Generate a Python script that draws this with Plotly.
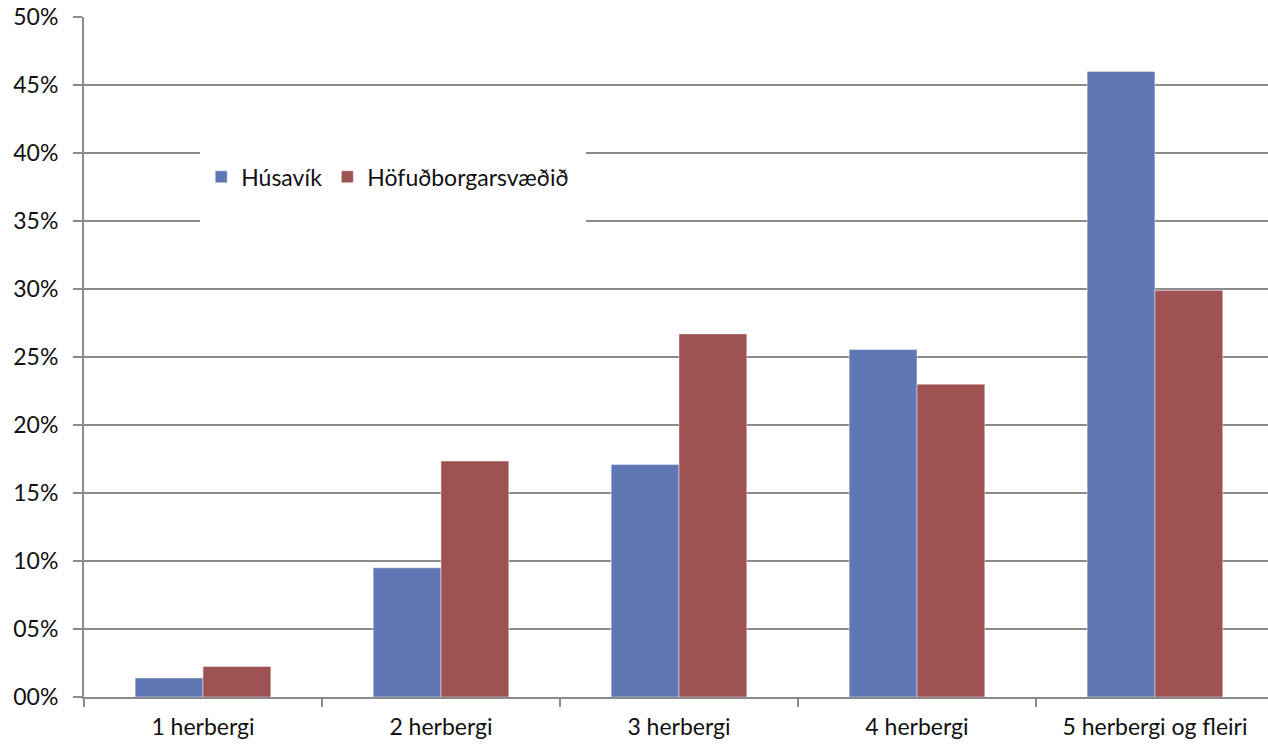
import plotly.graph_objects as go

# Room-count categories and share of dwellings (percent)
categories = ["1 herbergi", "2 herbergi", "3 herbergi", "4 herbergi", "5 herbergi og fleiri"]
husavik = [1.4, 9.5, 17.1, 25.55, 46.0]
hofudborgarsvaedid = [2.25, 17.35, 26.7, 23.0, 29.9]

y_tickvals = [0, 5, 10, 15, 20, 25, 30, 35, 40, 45, 50]
y_ticktext = ["00%", "05%", "10%", "15%", "20%", "25%", "30%", "35%", "40%", "45%", "50%"]

FONT = "Lato, 'Noto Sans', sans-serif"
FSIZE = 23
GRID = "#8a8a8a"

fig = go.Figure()
fig.add_trace(go.Bar(
    name="Húsavík", x=categories, y=husavik,
    marker=dict(color="#6077B5", line=dict(color="rgba(255,255,255,0.45)", width=1)),
))
fig.add_trace(go.Bar(
    name="Höfuðborgarsvæðið", x=categories, y=hofudborgarsvaedid,
    marker=dict(color="#9E5252", line=dict(color="rgba(255,255,255,0.45)", width=1)),
))

fig.update_layout(
    width=1268, height=746,
    margin=dict(l=84, r=0, t=17, b=49),
    paper_bgcolor="white", plot_bgcolor="white",
    barmode="group", bargap=0.43, bargroupgap=0,
    font=dict(family=FONT, size=FSIZE, color="#111111"),
    showlegend=True,
    legend=dict(
        orientation="h", x=0.099, xanchor="left", y=0.765, yanchor="middle",
        bgcolor="rgba(0,0,0,0)", borderwidth=0,
        font=dict(family=FONT, size=FSIZE, color="#111111"),
        traceorder="normal",
    ),
    shapes=[dict(
        type="rect", xref="paper", yref="paper",
        x0=0.098, x1=0.424, y0=0.69, y1=0.82,
        fillcolor="white", line=dict(width=0), layer="above",
    )],
)

fig.update_xaxes(
    type="category", range=[-0.5, 4.475],
    showline=True, linecolor=GRID, linewidth=2,
    ticks="outside", tickson="boundaries", ticklen=8, tickcolor=GRID, tickwidth=2,
    showgrid=False, ticklabelstandoff=8,
    tickfont=dict(family=FONT, size=FSIZE, color="#111111"),
)
fig.update_yaxes(
    range=[0, 50], tickvals=y_tickvals, ticktext=y_ticktext,
    showline=True, linecolor=GRID, linewidth=2,
    ticks="outside", ticklen=9, tickcolor=GRID, tickwidth=2,
    showgrid=True, gridcolor=GRID, gridwidth=2,
    zeroline=False, ticklabelstandoff=10,
    tickfont=dict(family=FONT, size=FSIZE, color="#111111"),
)

fig.write_html("out.html")
